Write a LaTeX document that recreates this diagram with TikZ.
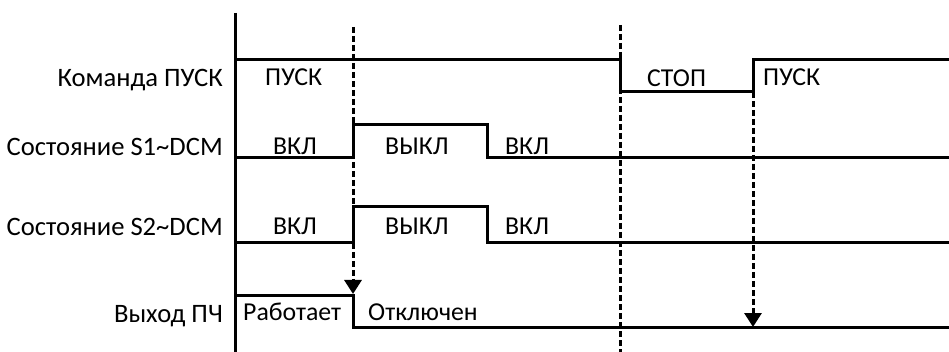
\documentclass[tikz,border=0pt]{standalone}
\usepackage{fontspec}
\setmainfont{Carlito}
\usetikzlibrary{arrows.meta}
\begin{document}
\begin{tikzpicture}[x=1pt,y=-1pt,
  wave/.style={line width=3pt,line join=miter,black},
  guide/.style={line width=3pt,dash pattern=on 6pt off 3pt,black},
  guidearrow/.style={guide,-{Triangle[width=17pt,length=14pt]}},
  lbl/.style={inner sep=0pt,font=\fontsize{25.8}{30}\selectfont},
  rowlbl/.style={lbl,anchor=base east,font=\fontsize{26.6}{30}\selectfont},
  txt/.style={lbl,anchor=base west}]
\useasboundingbox (0,0) rectangle (949,352);
% guide coordinates
\coordinate (g1t) at (353,27);
\coordinate (g1b) at (353,294);
\coordinate (g2t) at (620,25);
\coordinate (g2b) at (620,352);
\coordinate (g3t) at (753,92);
\coordinate (g3b) at (753,327);
% axis
\coordinate (axt) at (235,13);
\coordinate (axb) at (235,352);
\draw[wave] (axt) -- (axb);
% dashed guides
\draw[guidearrow] (g1t) -- (g1b);
\draw[guide] (g2t) -- (g2b);
\draw[guidearrow] (g3t) -- (g3b);
% waveforms
\draw[wave] (235,60) -- (620,60) -- (620,92) -- (753,92) -- (753,60) -- (949,60);
\draw[wave] (235,158) -- (353,158) -- (353,125) -- (487,125) -- (487,158) -- (949,158);
\draw[wave] (235,243) -- (353,243) -- (353,207) -- (487,207) -- (487,243) -- (949,243);
\draw[wave] (235,295) -- (353,295) -- (353,327) -- (949,327);
% row labels
\node[rowlbl] (l1) at (223,87) {Команда ПУСК};
\node[rowlbl] (l2) at (223,156) {Состояние S1\char`\~DCM};
\node[rowlbl] (l3) at (223,236) {Состояние S2\char`\~DCM};
\node[rowlbl] (l4) at (223,322) {Выход ПЧ};
% state labels
\node[txt] (p1) at (265,86) {ПУСК};
\node[txt] (st) at (647,87) {СТОП};
\node[txt] (p2) at (763,86) {ПУСК};
\node[txt] (a1) at (273,155) {ВКЛ};
\node[txt] (a2) at (385,155) {ВЫКЛ};
\node[txt] (a3) at (505,155) {ВКЛ};
\node[txt] (b1) at (273,235) {ВКЛ};
\node[txt] (b2) at (385,235) {ВЫКЛ};
\node[txt] (b3) at (505,235) {ВКЛ};
\node[txt] (c1) at (243,320) {Работает};
\node[txt] (c2) at (368,320) {Отключен};
\end{tikzpicture}
\end{document}
